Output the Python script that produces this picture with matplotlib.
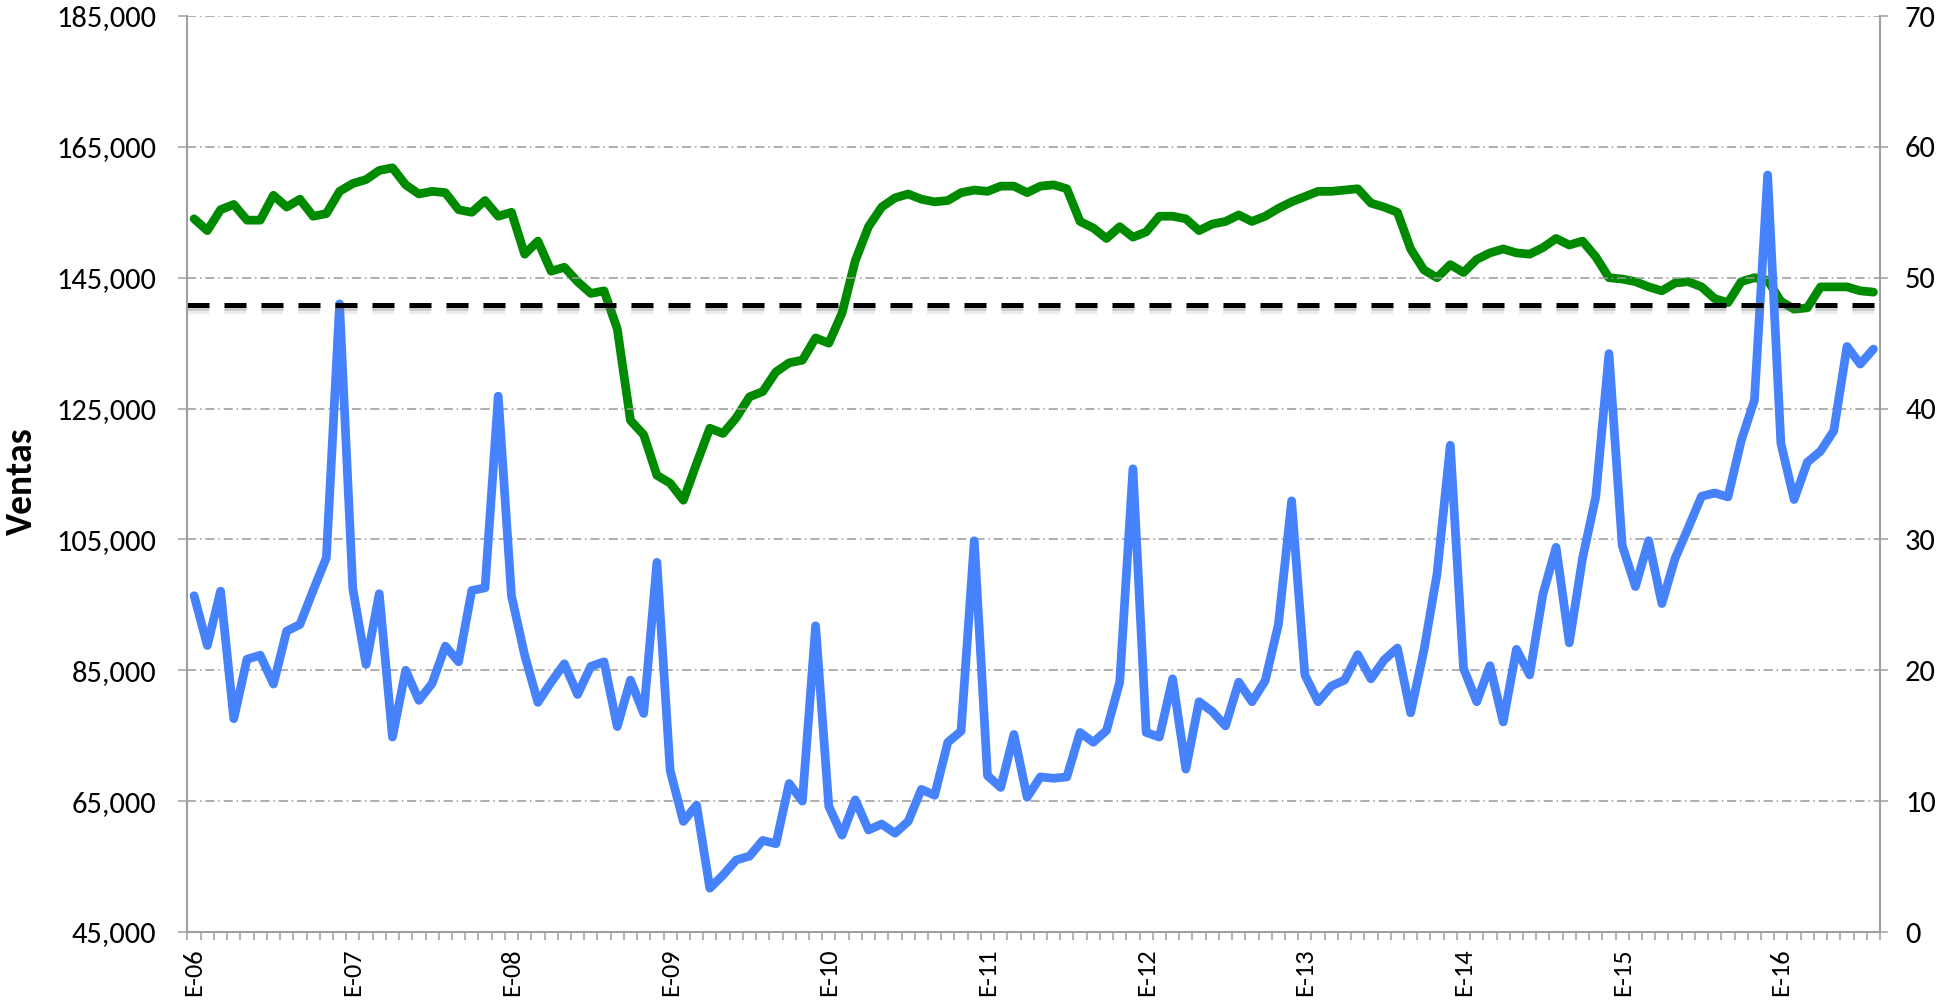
import numpy as np
import matplotlib
matplotlib.use('agg')
import matplotlib.pyplot as plt
import matplotlib.patheffects as pe
import matplotlib.transforms as mtransforms
from matplotlib.ticker import FuncFormatter

plt.rcParams['font.family'] = ['Carlito', 'Lato', 'DejaVu Sans']

# Monthly data, Jan 2006 - Aug 2016
ventas = [
    96400, 88800, 97100, 77600, 86700, 87300, 82900, 91000, 92000, 97200, 102200, 141000,
    97500, 85900, 96700, 74800, 85000, 80400, 83000, 88700, 86300, 97200, 97600, 126900,
    96400, 87300, 80100, 83200, 86000, 81300, 85600, 86300, 76400, 83500, 78400, 101500,
    69700, 61900, 64400, 51700, 53700, 56000, 56600, 59000, 58500, 67700, 65000, 91800,
    64200, 59800, 65200, 60600, 61500, 60100, 61900, 66800, 65900, 74000, 75700, 104800,
    68900, 67100, 75200, 65600, 68700, 68500, 68700, 75500, 74000, 75800, 83200, 115800,
    75500, 74800, 83700, 69900, 80200, 78700, 76500, 83200, 80200, 83400, 92000, 110900,
    84300, 80200, 82600, 83500, 87400, 83700, 86600, 88400, 78500, 88000, 99800, 119400,
    85300, 80200, 85700, 77100, 88200, 84300, 96600, 103800, 89200, 102100, 111500, 133400,
    104100, 97800, 104800, 95200, 102100, 106800, 111600, 112100, 111500, 120100, 126300, 160700,
    119700, 111100, 116800, 118500, 121600, 134500, 131800, 134100,
]
indice = [
    54.5, 53.6, 55.2, 55.6, 54.4, 54.4, 56.3, 55.4, 56.0, 54.7, 54.9, 56.6,
    57.2, 57.5, 58.2, 58.4, 57.1, 56.4, 56.6, 56.5, 55.2, 55.0, 55.9, 54.7,
    55.0, 51.8, 52.8, 50.5, 50.8, 49.7, 48.8, 49.0, 46.1, 39.1, 38.0, 34.9,
    34.3, 33.0, 35.8, 38.5, 38.1, 39.3, 40.9, 41.3, 42.8, 43.5, 43.7, 45.4,
    45.0, 47.3, 51.3, 53.9, 55.4, 56.1, 56.4, 56.0, 55.8, 55.9, 56.5, 56.7,
    56.6, 57.0, 57.0, 56.5, 57.0, 57.1, 56.8, 54.3, 53.8, 53.0, 53.9, 53.1,
    53.5, 54.7, 54.7, 54.5, 53.6, 54.1, 54.3, 54.8, 54.3, 54.7, 55.3, 55.8,
    56.2, 56.6, 56.6, 56.7, 56.8, 55.7, 55.4, 55.0, 52.2, 50.6, 50.0, 51.0,
    50.4, 51.4, 51.9, 52.2, 51.9, 51.8, 52.3, 53.0, 52.5, 52.8, 51.6, 50.0,
    49.9, 49.7, 49.3, 49.0, 49.6, 49.7, 49.3, 48.4, 48.1, 49.7, 50.0, 49.8,
    48.2, 47.6, 47.7, 49.3, 49.3, 49.3, 49.0, 48.9,
]
umbral = 47.9  # right axis
anios = ['E-06', 'E-07', 'E-08', 'E-09', 'E-10', 'E-11', 'E-12', 'E-13', 'E-14', 'E-15', 'E-16']

x = np.arange(len(ventas))
gris = '#a0a0a0'

fig = plt.figure(figsize=(19.43, 10.01), dpi=100)
ax = fig.add_axes([0.0965, 0.0689, 0.8711, 0.9151])
ax2 = ax.twinx()
ax.set_zorder(ax2.get_zorder() + 1)
ax.patch.set_visible(False)

# green index on the right axis, below the sales line
ax2.plot(x, indice, color='#008a00', lw=6.3, solid_capstyle='round', solid_joinstyle='round')
ax.plot(x, ventas, color='#4682fb', lw=6.3, solid_capstyle='round', solid_joinstyle='round')

# threshold line (right axis units) with a soft shadow
trans = mtransforms.blended_transform_factory(ax.transAxes, ax2.transData)
ax.plot([0, 1], [umbral, umbral], transform=trans, color='black', lw=3.6,
        linestyle=(0, (4.4, 3.0)), clip_on=False,
        path_effects=[pe.SimpleLineShadow(offset=(0, -3.5), shadow_color='#888888', alpha=0.15,
                                          linewidth=6),
                      pe.SimpleLineShadow(offset=(0, -2), shadow_color='#666666', alpha=0.25),
                      pe.Normal()])

ax.set_xlim(-0.5, len(ventas) - 0.5)
ax.set_ylim(45000, 185000)
ax2.set_ylim(0, 70)
ax.set_yticks(np.arange(45000, 185001, 20000))
ax2.set_yticks(np.arange(0, 71, 10))
ax.yaxis.set_major_formatter(FuncFormatter(lambda v, p: '{:,.0f}'.format(v)))

ax.grid(axis='y', color='#999999', lw=1.1, linestyle=(0, (6, 2.5, 1, 2.5)))
ax.set_axisbelow(True)

ax.set_xticks(x[::12])
ax.set_xticklabels(anios, rotation=90)
ax.set_xticks(np.arange(-0.5, len(ventas), 1), minor=True)
ax.tick_params(axis='x', which='major', length=0, pad=12, labelsize=19)
ax.tick_params(axis='x', which='minor', length=5.5, width=1.1, color=gris, direction='out')
ax.tick_params(axis='y', length=6.5, width=1.1, color=gris, labelsize=22, pad=16)
ax2.tick_params(axis='y', length=6, width=1.1, color=gris, labelsize=22, pad=12)

for s in ['top', 'right']:
    ax.spines[s].set_visible(False)
for s in ['top', 'left', 'bottom']:
    ax2.spines[s].set_visible(False)
for a, s in [(ax, 'left'), (ax, 'bottom'), (ax2, 'right')]:
    a.spines[s].set_color(gris)
    a.spines[s].set_linewidth(1.5)

ax.set_ylabel('Ventas', fontweight='bold', fontsize=27)
ax.yaxis.set_label_coords(-0.0885, 0.492)

plt.savefig('out.png', dpi=100)
plt.close()
